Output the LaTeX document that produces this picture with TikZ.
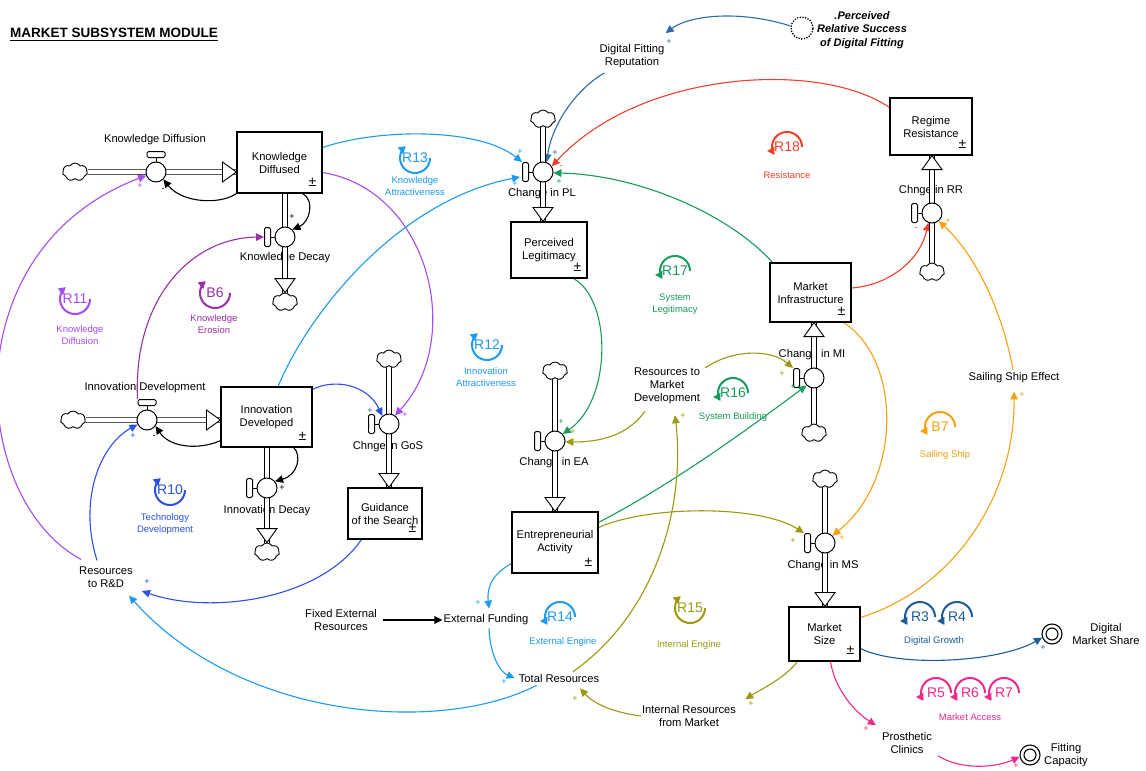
\documentclass[tikz,border=0pt]{standalone}
\usepackage{fontspec}
\setmainfont{Liberation Sans}
\usetikzlibrary{arrows.meta,shapes.symbols,calc}
\pgfdeclarelayer{links}
\pgfdeclarelayer{texts}
\pgfdeclarelayer{pipes}
\pgfsetlayers{links,texts,pipes,main}

\definecolor{cPurp}{HTML}{A64BF2}
\definecolor{cMag}{HTML}{9A2FA8}
\definecolor{cBlue}{HTML}{2B50E6}
\definecolor{cLBlue}{HTML}{1E9AF0}
\definecolor{cSteel}{HTML}{2B6CA8}
\definecolor{cDBlue}{HTML}{1D5C99}
\definecolor{cRed}{HTML}{F0402A}
\definecolor{cGreen}{HTML}{1A9A5C}
\definecolor{cOlive}{HTML}{9A9A10}
\definecolor{cOrange}{HTML}{F7A010}
\definecolor{cPink}{HTML}{F0288A}

\tikzset{
  every node/.style={font=\fontsize{11.2}{13}\selectfont},
  stock/.style={draw, line width=1.1pt, fill=white, align=center, inner sep=0pt},
  pmark/.style={font=\fontsize{14}{14}\selectfont, inner sep=0pt},
  pipe/.style={double distance=3.6pt, line width=0.9pt, draw=black},
  pipetip/.style={draw=black, line width=0.9pt, fill=white, line join=miter},
  valve/.style={circle, draw, line width=1pt, fill=white, minimum size=20pt, inner sep=0pt},
  hbar/.style={draw, line width=1pt, fill=white, rounded corners=1.5pt, minimum width=18pt, minimum height=6pt, inner sep=0pt},
  vbar/.style={draw, line width=1pt, fill=white, rounded corners=1.5pt, minimum width=6pt, minimum height=19pt, inner sep=0pt},
  sky/.style={cloud, cloud puffs=7, cloud puff arc=120, aspect=1.4, draw, line width=0.9pt, fill=white, minimum width=25pt, minimum height=18pt, inner sep=0pt},
  lbl/.style={align=center, inner sep=1pt},
  link/.style={line width=1.1pt, -{Triangle[length=8pt,width=7.5pt]}},
  polsgn/.style={font=\fontsize{9}{9}\selectfont, inner sep=0pt},
  loopnum/.style={font=\fontsize{14}{14}\selectfont, inner sep=0pt},
  looplbl/.style={font=\fontsize{9.5}{11.5}\selectfont, align=center, inner sep=0pt},
  loopline/.style={line width=2pt, -{Triangle[length=7pt,width=8pt]}},
  sink/.style={circle, draw, line width=1.1pt, minimum size=20pt, inner sep=0pt}
}

% valve with its handle above (horizontal flows) or at the left (vertical flows)
\newcommand\valvetop[2]{\node[valve] (#1) at (#2) {};
  \draw[line width=1pt] (#1.north) -- ++(0,-5);
  \node[hbar] (h#1) at ($(#1.north)+(0,-7)$) {};}
\newcommand\valveleft[2]{\node[valve] (#1) at (#2) {};
  \draw[line width=1pt] (#1.west) -- ++(-5,0);
  \node[vbar] (h#1) at ($(#1.west)+(-7,0)$) {};}
% hollow heads of the flow pipes
\newcommand\tipR[1]{\draw[pipetip] (#1) -- ++(-14,-10) -- ++(0,20) -- cycle;}
\newcommand\tipD[1]{\draw[pipetip] (#1) -- ++(-10,-14) -- ++(20,0) -- cycle;}
\newcommand\tipU[1]{\draw[pipetip] (#1) -- ++(-10,14) -- ++(20,0) -- cycle;}
% loop identifiers: y grows downwards, so angle 90 lies below the label
\newcommand\loopcw[5]{\node[loopnum,text=#4] (#1) at (#2,#3) {#5};
  \draw[loopline,#4] plot[smooth, domain=0:232, samples=30] ({#2+15*cos(\x)},{#3+15*sin(\x)});}
\newcommand\loopccw[5]{\node[loopnum,text=#4] (#1) at (#2,#3) {#5};
  \draw[loopline,#4] plot[smooth, domain=0:-212, samples=30] ({#2+15*cos(\x)},{#3+15*sin(\x)});}
\newcommand\polsign[4]{\node[polsgn,text=#3] (#1) at (#2) {#4};}

\begin{document}
\begin{tikzpicture}[x=1pt,y=-1pt]
\useasboundingbox (0,0) rectangle (1146,771);
\begin{pgfonlayer}{links}
\fill[white] (0,0) rectangle (1146,771);
\end{pgfonlayer}

% ---------- texts ----------
\begin{pgfonlayer}{texts}
\node[anchor=west, inner sep=0pt, font=\fontsize{13.5}{14}\selectfont\bfseries] (title) at (10,33) {MARKET SUBSYSTEM MODULE};
\draw[line width=0.9pt] ([yshift=-2.5pt]title.base west) -- ([yshift=-2.5pt]title.base east);

\node[lbl] (lKDf) at (155,140) {Knowledge Diffusion};
\node[lbl] (lKDd) at (285,258) {Knowledge Decay};
\node[lbl] (lIDd) at (145,388) {Innovation Development};
\node[lbl] (lIDy) at (267,511) {Innovation Decay};
\node[lbl] (lGS) at (388,447) {Chnge in GoS};
\node[lbl] (lPL) at (542,194) {Change in PL};
\node[lbl] (lEA) at (554,463) {Change in EA};
\node[lbl] (lMI) at (812,355) {Change in MI};
\node[lbl] (lRR) at (931,191) {Chnge in RR};
\node[lbl] (lMS) at (823,566) {Change in MS};

\node[lbl] (dfr) at (632,56) {Digital Fitting\\Reputation};
\node[lbl, font=\fontsize{11}{13.5}\selectfont\bfseries\itshape] (prs) at (862,30) {.Perceived\\Relative Success\\of Digital Fitting};
\node[lbl] (rmd) at (667,386) {Resources to\\Market\\Development};
\node[lbl] (rrd) at (106,577) {Resources\\to R\&D};
\node[lbl] (fer) at (341,620) {Fixed External\\Resources};
\node[lbl] (ef) at (486,620) {External Funding};
\node[lbl] (tr) at (559,678) {Total Resources};
\node[lbl] (irm) at (689,716) {Internal Resources\\from Market};
\node[lbl] (sse) at (1014,378) {Sailing Ship Effect};
\node[lbl] (dms) at (1106,634) {Digital\\Market Share};
\node[lbl] (pc) at (907,743) {Prosthetic\\Clinics};
\node[lbl] (fc) at (1066,755) {Fitting\\Capacity};
\end{pgfonlayer}

% ---------- stocks ----------
\node[stock, minimum width=85, minimum height=61] (kd) at (279.5,162.5) {Knowledge\\Diffused};
\node[stock, minimum width=91, minimum height=60] (id) at (266.5,417) {Innovation\\Developed};
\node[stock, minimum width=74, minimum height=51] (gs) at (385,513.5) {Guidance\\of the Search};
\node[stock, minimum width=76, minimum height=56] (pl) at (549,250) {Perceived\\Legitimacy};
\node[stock, minimum width=86, minimum height=61] (ea) at (555,542.5) {Entrepreneurial\\Activity};
\node[stock, minimum width=81, minimum height=59] (mi) at (810.5,292.5) {Market\\Infrastructure};
\node[stock, minimum width=82, minimum height=57] (rr) at (931,126.5) {Regime\\Resistance};
\node[stock, minimum width=71, minimum height=54] (ms) at (824.5,634) {Market\\Size};
\foreach \s in {kd,id,gs,pl,ea,mi,rr,ms}{
  \node[pmark] (pm\s) at ($(\s.south east)+(-10,-11)$) {±};
}

% ---------- valves and clouds ----------
\valvetop{vKDf}{156,172}
\valveleft{vKDd}{285,237}
\valvetop{vIDd}{147,420}
\valveleft{vIDy}{267,488}
\valveleft{vGS}{389,424}
\valveleft{vPL}{543,172}
\valveleft{vEA}{555,441}
\valveleft{vMI}{814,378}
\valveleft{vRR}{932,213}
\valveleft{vMS}{825,543}

\node[sky] (cKDf) at (75,172) {};
\node[sky] (cKDd) at (285,302) {};
\node[sky] (cIDd) at (73,420) {};
\node[sky] (cIDy) at (267,552) {};
\node[sky] (cGS) at (389,359) {};
\node[sky] (cPL) at (543,119) {};
\node[sky] (cEA) at (555,371) {};
\node[sky] (cMI) at (814,433) {};
\node[sky] (cRR) at (932,272) {};
\node[sky] (cMS) at (825,479) {};

% ghost variable and sinks
\node[circle, draw, line width=1.8pt, dash pattern=on 0pt off 2.7pt, line cap=round, minimum size=22pt, inner sep=0pt] (gh) at (802,28) {};
\node[sink] (dmsc) at (1052,634) {};
\draw[line width=1.1pt] (dmsc) circle[radius=6];
\node[sink] (fcc) at (1030,755) {};
\draw[line width=1.1pt] (fcc) circle[radius=6];

% ---------- pipes ----------
\begin{pgfonlayer}{pipes}
\draw[pipe] (cKDf.east) -- (vKDf -| kd.west); \tipR{vKDf -| kd.west}
\draw[pipe] (cIDd.east) -- (vIDd -| id.west); \tipR{vIDd -| id.west}
\draw[pipe] (vKDd |- kd.south) -- (cKDd.north); \tipD{cKDd.north}
\draw[pipe] (vIDy |- id.south) -- (cIDy.north); \tipD{cIDy.north}
\draw[pipe] (cGS.south) -- (vGS |- gs.north); \tipD{vGS |- gs.north}
\draw[pipe] (cPL.south) -- (vPL |- pl.north); \tipD{vPL |- pl.north}
\draw[pipe] (cEA.south) -- (vEA |- ea.north); \tipD{vEA |- ea.north}
\draw[pipe] (cMI.north) -- (vMI |- mi.south); \tipU{vMI |- mi.south}
\draw[pipe] (cRR.north) -- (vRR |- rr.south); \tipU{vRR |- rr.south}
\draw[pipe] (cMS.south) -- (vMS |- ms.north); \tipD{vMS |- ms.north}
\end{pgfonlayer}

% ---------- causal links ----------
\begin{pgfonlayer}{links}
% black
\draw[link] (kd.south west) .. controls (220,205) and (182,203) .. (vKDf.-45);
\draw[link] ($(kd.south east)+(-20,0)$) .. controls (315,200) and (310,222) .. (vKDd.45);
\draw[link] ($(id.south west)+(0,-7)$) .. controls (200,450) and (170,448) .. (vIDd.-35);
\draw[link] ($(id.south east)+(-19,0)$) .. controls (302,455) and (298,475) .. (vIDy.40);
\draw[link] ($(fer.east)+(5,0)$) -- (ef.west);
% purple
\draw[link,cPurp] ($(rrd.north west)+(3,-6)$) .. controls (-30,500) and (-50,250) .. (vKDf.200);
\draw[link,cPurp] ($(kd.east)+(0,10)$) .. controls (430,190) and (465,340) .. (vGS.55);
\draw[link,cMag] (hvIDd.north west) .. controls (133,300) and (190,238) .. (hvKDd.west);
% blue
\draw[link,cBlue] ($(id.north east)+(0,3)$) .. controls (335,378) and (368,385) .. (vGS.130);
\draw[link,cBlue] ($(gs.south west)+(14,0)$) .. controls (320,600) and (210,615) .. ($(rrd.east)+(8,14)$);
\draw[link,cBlue] ($(rrd.north)+(-9,-5)$) .. controls (78,500) and (100,445) .. (vIDd.205);
% light blue
\draw[link,cLBlue] ($(kd.east)+(0,-15)$) .. controls (380,128) and (480,128) .. (hvPL.north west);
\draw[link,cLBlue] ($(id.north)+(11.5,0)$) .. controls (310,310) and (400,200) .. ($(hvPL.west)+(-2,5)$);
\draw[link,cLBlue] ($(ea.south west)+(0,-10)$) .. controls (490,575) and (487,590) .. ($(ef.north)+(3,-5)$);
\draw[link,cLBlue] ($(ef.south)+(3,2)$) .. controls (490,655) and (500,672) .. ($(tr.west)+(-3,0)$);
\draw[link,cLBlue] ($(tr.south west)+(19,2)$) .. controls (440,735) and (240,720) .. ($(rrd.south east)+(-5,7)$);
% steel blue
\draw[link,cSteel] ($(dfr.south west)+(6,4)$) .. controls (575,90) and (552,125) .. (vPL.70);
\draw[link,cSteel] (gh.170) .. controls (740,10) and (690,15) .. ($(dfr.north east)+(0,-10)$);
% red
\draw[link,cRed] ($(rr.north west)+(0,10)$) .. controls (820,60) and (640,70) .. (vPL.33);
\draw[link,cRed] ($(mi.east)+(0,-4.5)$) .. controls (890,285) and (920,260) .. (vRR.250);
% green
\draw[link,cGreen] ($(pl.south east)+(-14,0)$) .. controls (612,300) and (612,400) .. (vEA.42);
\draw[link,cGreen] ($(mi.north west)+(3,0)$) .. controls (730,215) and (640,175) .. (vPL.-5);
\draw[link,cGreen] ($(ea.north east)+(0,11)$) .. controls (680,480) and (760,420) .. (vMI.225);
% olive
\draw[link,cOlive] ($(rmd.north east)+(4,1)$) .. controls (735,348) and (772,350) .. (hvMI.north west);
\draw[link,cOlive] ($(rmd.south west)+(12,6)$) .. controls (625,440) and (590,442) .. (vEA.-5);
\draw[link,cOlive] ($(tr.north)+(14,-1)$) .. controls (660,610) and (685,500) .. ($(rmd.south)+(8,10)$);
\draw[link,cOlive] ($(ea.north east)+(0,16)$) .. controls (650,505) and (760,505) .. (hvMS.north west);
\draw[link,cOlive] ($(ms.south west)+(9,0)$) .. controls (785,678) and (760,690) .. ($(irm.north east)+(8,-5)$);
\draw[link,cOlive] (irm.west) .. controls (610,712) and (592,702) .. ($(tr.south)+(21,5)$);
% orange
\draw[link,cOrange] ($(mi.south east)+(-8,0)$) .. controls (902,360) and (902,480) .. (vMS.45);
\draw[link,cOrange] ($(ms.north east)+(0,11)$) .. controls (950,590) and (1015,500) .. ($(sse.south)+(0,7)$);
\draw[link,cOrange] ($(sse.north)+(-1,-2)$) .. controls (1000,300) and (970,250) .. (vRR.-50);
% dark blue and pink
\draw[link,cDBlue] ($(ms.south east)+(0,-13)$) .. controls (900,668) and (1000,662) .. (dmsc.200);
\draw[link,cPink] ($(ms.south)+(6,0)$) .. controls (835,690) and (855,712) .. ($(pc.north west)+(-5,-6)$);
\draw[link,cPink] ($(pc.south east)+(5,1)$) .. controls (960,770) and (995,768) .. (fcc.190);
\end{pgfonlayer}

% ---------- polarities ----------
\polsign{s1}{163,190}{black}{-}
\polsign{s2}{292,217}{black}{+}
\polsign{s3}{154,437}{black}{-}
\polsign{s4}{282,488}{black}{+}
\polsign{s5}{140,186}{cPurp}{+}
\polsign{s6}{405,415}{cPurp}{+}
\polsign{s7}{370,411}{cBlue}{+}
\polsign{s8}{147,582}{cBlue}{+}
\polsign{s9}{133,436}{cBlue}{+}
\polsign{s10}{520,152}{cLBlue}{+}
\polsign{s11}{515,184}{cLBlue}{+}
\polsign{s12}{555,153}{cDBlue}{+}
\polsign{s13}{669,42}{cSteel}{+}
\polsign{s14}{561,167}{cRed}{-}
\polsign{s15}{916,229}{cRed}{-}
\polsign{s16}{561,422}{cGreen}{+}
\polsign{s17}{559,182}{cGreen}{+}
\polsign{s18}{793,387}{cGreen}{+}
\polsign{s19}{782,374}{cOlive}{+}
\polsign{s20}{573,432}{cOlive}{+}
\polsign{s21}{683,416}{cOlive}{+}
\polsign{s22}{793,541}{cOlive}{+}
\polsign{s23}{751,704}{cOlive}{+}
\polsign{s24}{575,699}{cOlive}{+}
\polsign{s25}{842,538}{cOrange}{+}
\polsign{s26}{1022,395}{cOrange}{+}
\polsign{s27}{948,221}{cOrange}{+}
\polsign{s28}{1043,648}{cDBlue}{+}
\polsign{s29}{866,729}{cPink}{+}
\polsign{s30}{1016,766}{cPink}{+}
\polsign{s31}{478,603}{cLBlue}{+}
\polsign{s32}{504,682}{cLBlue}{+}

% ---------- loop identifiers ----------
\loopcw{lR13}{415}{158}{cLBlue}{R13}
\loopccw{lR18}{787}{147}{cRed}{R18}
\loopccw{lR17}{675}{271}{cGreen}{R17}
\loopccw{lR16}{733}{393}{cGreen}{R16}
\loopcw{lR12}{487}{345}{cLBlue}{R12}
\loopcw{lR11}{75}{299}{cPurp}{R11}
\loopcw{lB6}{215}{293}{cMag}{B6}
\loopcw{lR10}{170}{490}{cBlue}{R10}
\loopccw{lR14}{560}{617}{cLBlue}{R14}
\loopcw{lR15}{690}{608}{cOlive}{R15}
\loopccw{lB7}{940}{427}{cOrange}{B7}
\loopccw{lR3}{920}{617}{cDBlue}{R3}
\loopccw{lR4}{957}{617}{cDBlue}{R4}
\loopccw{lR5}{936}{693}{cPink}{R5}
\loopccw{lR6}{970}{693}{cPink}{R6}
\loopccw{lR7}{1004}{693}{cPink}{R7}

\node[looplbl,text=cLBlue] (tR13) at (415,186) {Knowledge\\Attractiveness};
\node[looplbl,text=cRed] (tR18) at (787,175) {Resistance};
\node[looplbl,text=cGreen] (tR17) at (675,304) {System\\Legitimacy};
\node[looplbl,text=cGreen] (tR16) at (733,417) {System Building};
\node[looplbl,text=cLBlue] (tR12) at (486,377) {Innovation\\Attractiveness};
\node[looplbl,text=cPurp] (tR11) at (80,335) {Knowledge\\Diffusion};
\node[looplbl,text=cMag] (tB6) at (214,324) {Knowledge\\Erosion};
\node[looplbl,text=cBlue] (tR10) at (165,524) {Technology\\Development};
\node[looplbl,text=cLBlue] (tR14) at (563,642) {External Engine};
\node[looplbl,text=cOlive] (tR15) at (689,645) {Internal Engine};
\node[looplbl,text=cOrange] (tB7) at (945,455) {Sailing Ship};
\node[looplbl,text=cDBlue] (tR34) at (934,641) {Digital Growth};
\node[looplbl,text=cPink] (tR57) at (970,717) {Market Access};
\end{tikzpicture}
\end{document}
